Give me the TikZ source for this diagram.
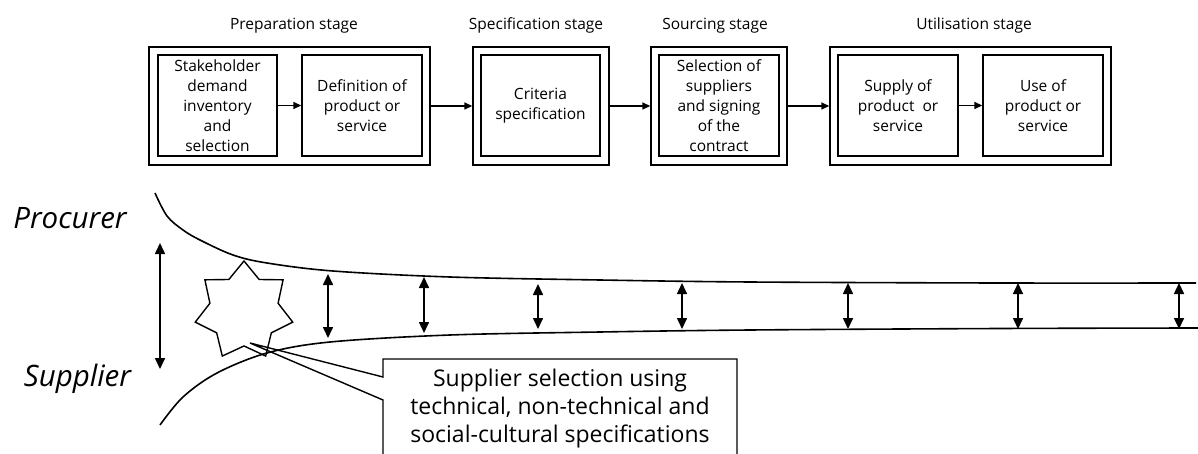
\documentclass[tikz,border=0pt]{standalone}
\usepackage{fontspec}
\setmainfont{Open Sans}
\usetikzlibrary{shapes.geometric,arrows.meta}
\begin{document}
\begin{tikzpicture}[x=1pt,y=-1pt,
  outerbox/.style={draw, line width=1.4pt, minimum width=#1, minimum height=118pt, inner sep=0pt},
  innerbox/.style={draw, line width=1.4pt, minimum width=#1, minimum height=101pt, inner sep=0pt, align=center, font=\fontsize{15.5}{20}\selectfont},
  stagelabel/.style={anchor=base, font=\fontsize{15.5}{20}\selectfont},
  link/.style={-{Triangle[length=8pt,width=7pt]}, line width=1.4pt},
  gaparrow/.style={{Triangle[length=11pt,width=10pt]}-{Triangle[length=11pt,width=10pt]}, line width=1.6pt},
  curve/.style={line width=1.6pt},
  side/.style={anchor=base, font=\fontsize{29.5}{32}\selectfont\itshape},
  calloutline/.style={line width=1.4pt}
]
\useasboundingbox (0,0) rectangle (1198,454);
\clip (0,0) rectangle (1198,454);

% stage labels
\node[stagelabel] (lprep) at (294,29.5) {Preparation stage};
\node[stagelabel] (lspec) at (536,29.5) {Specification stage};
\node[stagelabel] (lsrc) at (715,29.5) {Sourcing stage};
\node[stagelabel] (lutil) at (974,29.5) {Utilisation stage};

% outer boxes
\node[outerbox=281pt] (prep) at (289.5,106) {};
\node[outerbox=136pt] (spec) at (541,106) {};
\node[outerbox=136pt] (src) at (719,106) {};
\node[outerbox=281pt] (util) at (970.5,106) {};

% inner boxes
\node[innerbox=119pt] (p1) at (217.5,105.5) {Stakeholder\\demand\\inventory\\and\\selection};
\node[innerbox=120pt] (p2) at (362,105.5) {Definition of\\product or\\service};
\node[innerbox=119pt] (s1) at (540.5,105.5) {Criteria\\specification};
\node[innerbox=120pt] (c1) at (719,105.5) {Selection of\\suppliers\\and signing\\of the\\contract};
\node[innerbox=120pt] (u1) at (898,105.5) {Supply of\\product\ \ or\\service};
\node[innerbox=120pt] (u2) at (1043,105.5) {Use of\\product or\\service};

% flow arrows
\draw[link] (p1.east) -- (p2.west);
\draw[link] (prep.east) -- (spec.west);
\draw[link] (spec.east) -- (src.west);
\draw[link] (src.east) -- (util.west);
\draw[link] (u1.east) -- (u2.west);

% side labels
\node[side] (procurer) at (70,229) {Procurer};
\node[side] (supplier) at (77.5,386) {Supplier};

% curves
\draw[curve] plot[smooth, tension=0.55] coordinates {(155,193) (167,216) (183,230) (200,240) (233,255) (267,263) (333,271) (450,277) (600,280) (750,282) (1000,283) (1196,283)};
\draw[curve] plot[smooth, tension=0.55] coordinates {(160,425) (183,397) (217,373) (267,353) (330,342) (450,335) (600,332) (750,330) (1000,328.5) (1198,328)};

% gap arrows
\foreach \i/\x/\ya/\yb in {1/160/243/369, 2/328/274/338, 3/424/277/333, 4/538/284/329, 5/682/283/329, 6/848/283/329, 7/1018/283/329, 8/1179/283/329} {
  \coordinate (gt\i) at (\x,\ya);
  \coordinate (gb\i) at (\x,\yb);
  \draw[gaparrow] (gt\i) -- (gb\i);
}

% star
\node[star, star points=7, star point ratio=1.43, minimum size=100pt, inner sep=0pt, draw, line width=1.4pt] (star) at (244,311) {};

% callout
\node[align=center, font=\fontsize{23}{28}\selectfont] (callout) at (560,409) {Supplier selection using\\technical, non-technical and\\social-cultural specifications};
\coordinate (tip) at (250,343);
\coordinate (ctl) at (383,359);
\coordinate (ctr) at (737,359);
\coordinate (cw1) at (383,377);
\coordinate (cw2) at (383,400);
\coordinate (cbl) at (383,470);
\coordinate (cbr) at (737,470);
\draw[calloutline, line join=miter] (cbl) -- (cw2) -- (tip) -- (cw1) -- (ctl) -- (ctr) -- (cbr);
\end{tikzpicture}
\end{document}
